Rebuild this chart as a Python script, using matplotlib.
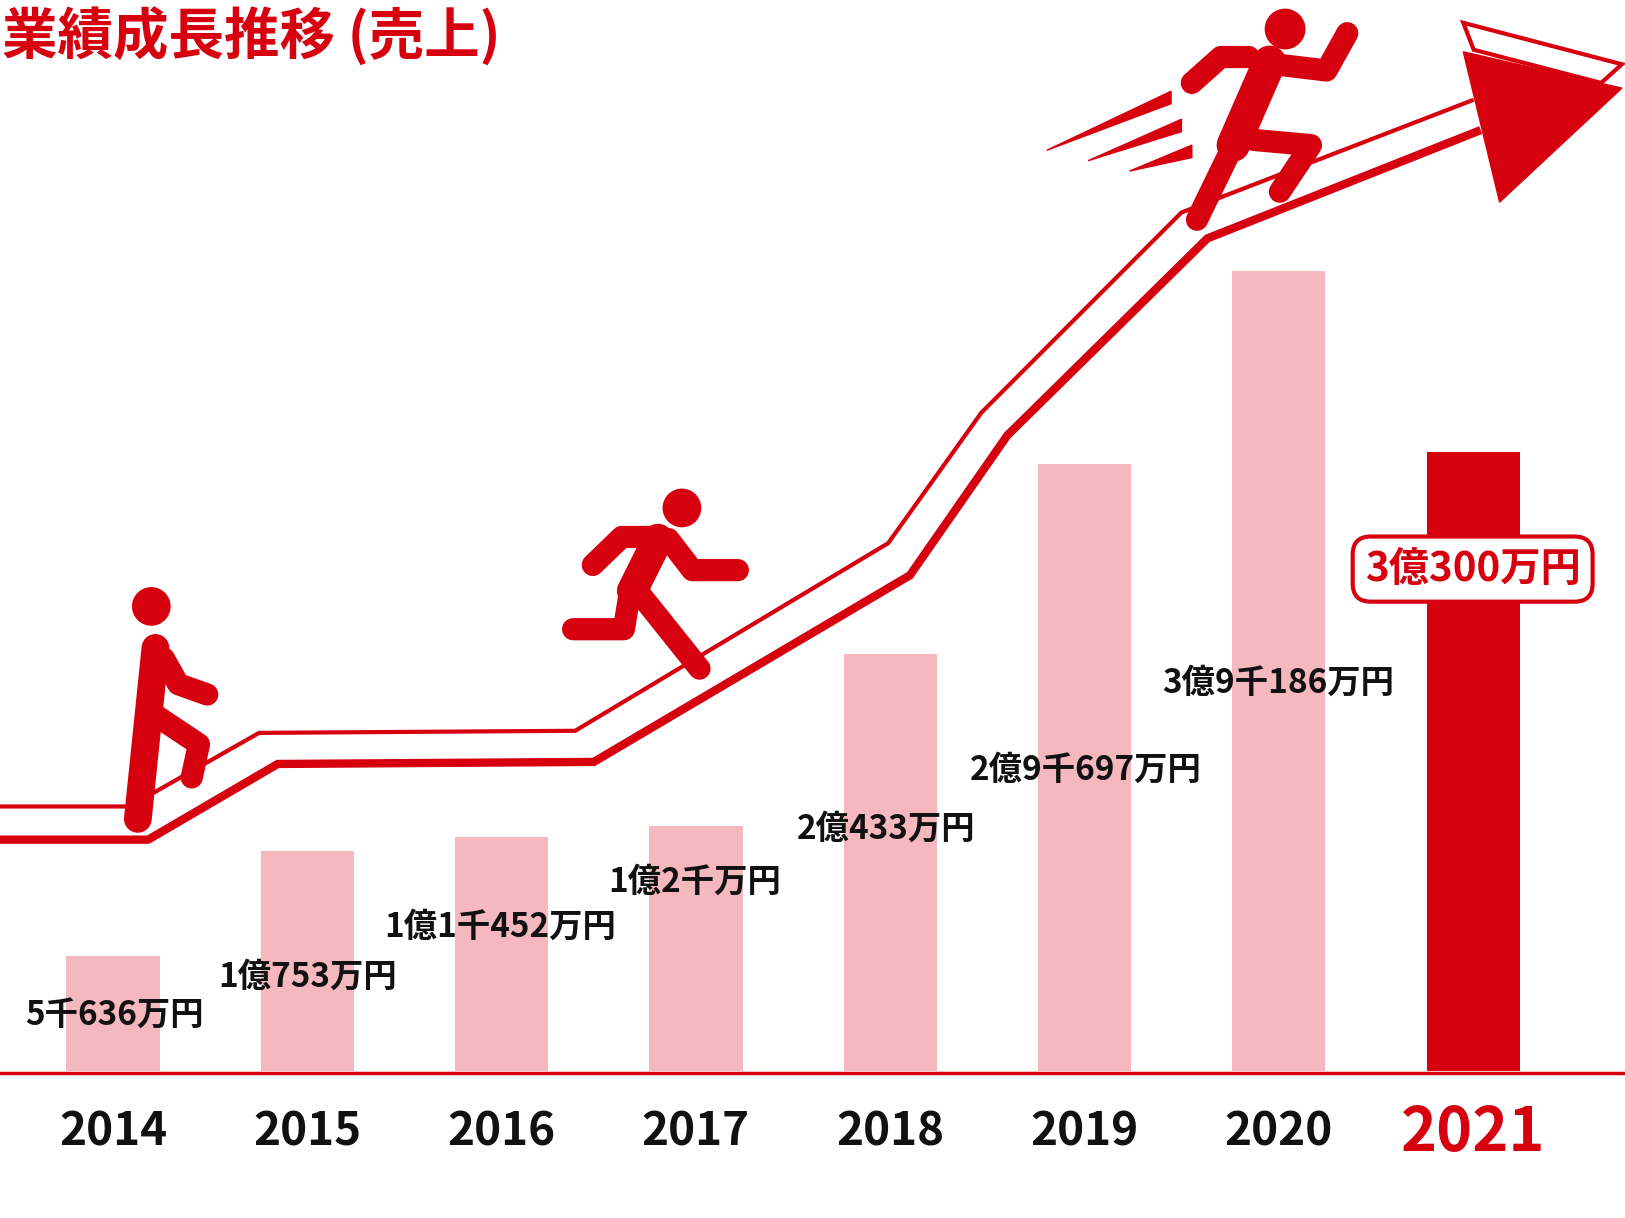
import matplotlib.pyplot as plt
from matplotlib.patches import Polygon, Circle

years = ["2014", "2015", "2016", "2017", "2018", "2019", "2020", "2021"]
sales = [5636, 10753, 11452, 12000, 20433, 29697, 39186, 30300]  # 万円
labels = ["5千636万円", "1億753万円", "1億1千452万円", "1億2千万円",
          "2億433万円", "2億9千697万円", "3億9千186万円", "3億300万円"]

RED = "#d7000f"
PINK = "#f4b8be"
FONT = "Noto Sans CJK JP"

fig = plt.figure(figsize=(16.25, 12.18), dpi=100)

# main data axes: bar centres every 187.5 px of a 1568x1175 canvas
ax = fig.add_axes([0, 0, 1, 1])
W, H = 1568, 1175
x0, dx = 109, 187.5
base, scale = 1033, 0.0197
ax.set_xlim(-x0 / dx, (W - x0) / dx)
ax.set_ylim(-(H - base) / scale, base / scale)
ax.axis("off")

colors = [PINK] * 7 + [RED]
ax.bar(range(len(years)), sales, width=0.48, color=colors, zorder=1)
ax.axhline(-100, color=RED, lw=2.5, zorder=2)

# overlay in pixel coordinates for the arrow and runners
ov = fig.add_axes([0, 0, 1, 1], facecolor="none")
ov.set_xlim(0, W)
ov.set_ylim(H, 0)
ov.axis("off")

low = [(0, 810), (143, 810), (268, 737), (573, 735), (878, 555), (972, 420), (1165, 230), (1425, 127)]
up = [(0, 778), (125, 778), (250, 707), (555, 705), (857, 524), (947, 398), (1140, 205), (1420, 97)]
ov.plot(*zip(*low), color=RED, lw=6, solid_joinstyle="miter", zorder=3)
ov.plot(*zip(*up), color=RED, lw=3, solid_joinstyle="miter", zorder=3)
ov.add_patch(Polygon([(1412, 50), (1565, 85), (1447, 195)], color=RED, zorder=4))
ov.add_patch(Polygon([(1412, 22), (1565, 62), (1545, 80), (1422, 48)], fill=False,
                     edgecolor=RED, lw=3, zorder=4))

def limb(pts, lw=16):
    ov.plot(*zip(*pts), color=RED, lw=lw, solid_capstyle="round",
            solid_joinstyle="round", zorder=5)

# runner 1
ov.add_patch(Circle((146, 585), 18, color=RED, zorder=5))
limb([(150, 625), (133, 790)], 20)
limb([(158, 635), (172, 660), (200, 670)])
limb([(150, 690), (192, 718), (185, 750)])
# runner 2
ov.add_patch(Circle((658, 490), 18, color=RED, zorder=5))
limb([(635, 520), (610, 570)], 22)
limb([(632, 518), (600, 518), (572, 545)])
limb([(645, 520), (668, 550), (712, 550)])
limb([(608, 570), (602, 607), (553, 607)])
limb([(615, 570), (675, 645)])
# runner 3
ov.add_patch(Circle((1240, 28), 19, color=RED, zorder=5))
limb([(1225, 60), (1190, 140)], 24)
limb([(1230, 62), (1280, 68), (1300, 32)])
limb([(1205, 55), (1178, 55), (1150, 80)])
limb([(1190, 140), (1155, 212)])
limb([(1210, 135), (1265, 140), (1235, 185)])
for a, b in [((1010, 145), (1130, 88)), ((1050, 155), (1140, 115)), ((1090, 165), (1150, 140))]:
    ov.add_patch(Polygon([a, b, (b[0], b[1] + 12)], color=RED, zorder=5))

# value labels
lab_pos = [(110, 980), (297, 943), (483, 895), (670, 851), (855, 800), (1048, 743), (1233, 659)]
for (px, py), t in zip(lab_pos, labels[:7]):
    ov.text(px, py, t, ha="center", va="center", fontsize=24, fontweight="bold",
            family=FONT, color="#111111", zorder=6)
ov.text(1421, 549, labels[7], ha="center", va="center", fontsize=29, fontweight="bold",
        family=FONT, color=RED, zorder=6,
        bbox=dict(boxstyle="round,pad=0.3,rounding_size=0.45", fc="white", ec=RED, lw=3))

# year labels
for i, y in enumerate(years):
    last = i == len(years) - 1
    ov.text(x0 + dx * i, 1093, y, ha="center", va="center",
            fontsize=44 if last else 33, fontweight="bold", family=FONT,
            color=RED if last else "#111111")

ov.text(2, 36, "業績成長推移 (売上)", ha="left", va="center", fontsize=40,
        fontweight="bold", family=FONT, color=RED)

fig.savefig("out.png", dpi=100)
